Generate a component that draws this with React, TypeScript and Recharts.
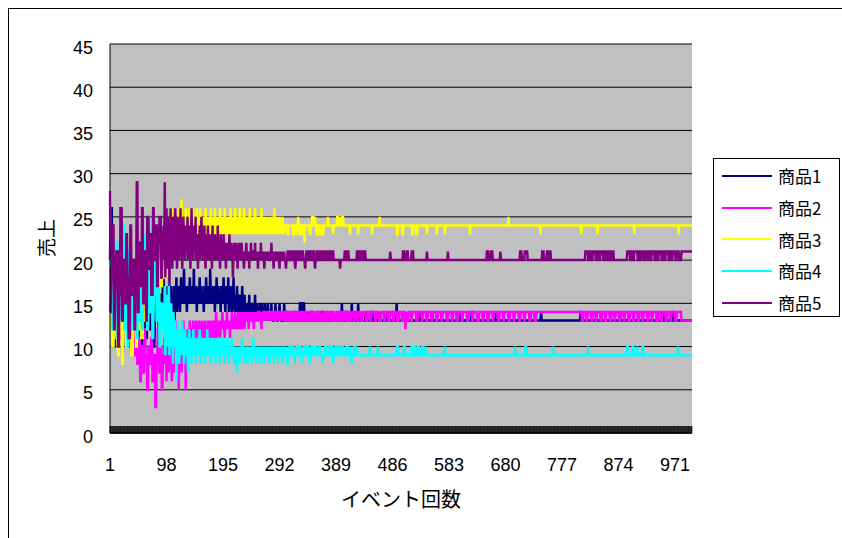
import { LineChart, Line, XAxis, YAxis, CartesianGrid, Legend } from 'recharts'

// event numbers 1..1000
const eventCount = 1000
const events = Array.from({ length: eventCount }, (_, i) => i + 1)

const xTickLabels = [1, 98, 195, 292, 389, 486, 583, 680, 777, 874, 971]
const yTicks = [0, 5, 10, 15, 20, 25, 30, 35, 40, 45]

const seriesNames = ['商品1', '商品2', '商品3', '商品4', '商品5']

// very first events, read as [value, how many events it holds]
type Hold = [number, number]

const s1Start: Hold[] = [
  [20, 1], [26, 3], [14, 2], [10, 3], [17, 2], [12, 3], [21, 2], [11, 3], [15, 2], [9, 2],
  [13, 3], [18, 2], [11, 3], [16, 2], [10, 2], [14, 3], [20, 2], [12, 3], [10, 2], [15, 3],
  [11, 2], [17, 2], [13, 3], [10, 2], [12, 3], [16, 2], [11, 2], [14, 3], [19, 2], [12, 3],
  [15, 2], [10, 3], [13, 2], [17, 3], [14, 2], [11, 2], [16, 3], [13, 2], [18, 2], [15, 3],
]
const s2Start: Hold[] = [
  [28, 1], [20, 2], [14, 3], [17, 2], [12, 3], [19, 2], [15, 2], [11, 3], [16, 2], [13, 3],
  [18, 2], [12, 3], [15, 2], [10, 3], [14, 2], [17, 2], [11, 3], [13, 2], [9, 3], [12, 2],
  [8, 3], [11, 2], [6, 2], [10, 3], [7, 2], [12, 2], [9, 3], [5, 2], [10, 2], [8, 3],
  [11, 2], [6, 3], [9, 2], [3, 2], [8, 2], [12, 3], [7, 2], [10, 2], [5, 2], [9, 3],
]
const s3Start: Hold[] = [
  [12, 2], [16, 2], [10, 3], [14, 2], [19, 2], [11, 3], [9, 2], [15, 2], [13, 3], [8, 2],
  [17, 2], [12, 3], [10, 2], [14, 3], [20, 2], [11, 2], [9, 3], [13, 2], [16, 3], [10, 2],
  [14, 3], [12, 2], [18, 2], [11, 3], [15, 2], [13, 3], [17, 2], [12, 2], [16, 3], [14, 2],
  [19, 2], [15, 3], [21, 2], [16, 2], [18, 3], [14, 2], [20, 2], [17, 3], [22, 2], [18, 2],
]
const s4Start: Hold[] = [
  [20, 2], [16, 2], [12, 3], [18, 2], [14, 2], [22, 2], [11, 3], [15, 2], [19, 2], [13, 3],
  [24, 2], [12, 2], [17, 3], [10, 2], [21, 2], [14, 3], [16, 2], [12, 2], [18, 3], [15, 2],
  [11, 2], [20, 2], [13, 3], [17, 2], [12, 2], [23, 2], [15, 3], [18, 2], [12, 2], [25, 2],
  [14, 3], [19, 2], [11, 2], [16, 3], [22, 2], [13, 2], [17, 3], [10, 2], [15, 2], [12, 3],
]
const s5Start: Hold[] = [
  [14, 2], [19, 2], [24, 3], [12, 2], [17, 2], [21, 3], [10, 2], [16, 2], [26, 3], [13, 2],
  [20, 2], [15, 3], [23, 2], [18, 2], [11, 3], [24, 2], [16, 2], [20, 3], [12, 2], [18, 2],
  [29, 2], [14, 2], [22, 3], [17, 2], [26, 2], [15, 3], [21, 2], [13, 2], [25, 3], [19, 2],
  [23, 2], [16, 3], [26, 2], [20, 2], [24, 3], [17, 2], [22, 2], [25, 3], [18, 2], [21, 2],
]

// the following ~200 events, one value per event
const s1Mid = [
  14, 16, 12, 17, 15, 13, 16, 9, 15, 17, 14, 16, 8, 15, 17, 13, 16, 15, 18, 14,
  16, 15, 17, 16, 14, 16, 18, 15, 17, 16, 15, 19, 16, 15, 17, 16, 14, 16, 17, 15,
  16, 18, 16, 15, 17, 16, 15, 16, 19, 15, 16, 17, 16, 14, 16, 15, 17, 16, 18, 15,
  16, 17, 15, 16, 16, 14, 17, 16, 15, 18, 16, 15, 16, 17, 16, 15, 19, 16, 15, 17,
  16, 15, 16, 17, 14, 16, 15, 18, 16, 15, 17, 16, 15, 16, 14, 17, 16, 15, 16, 18,
  15, 16, 14, 17, 15, 16, 15, 18, 14, 16, 15, 17, 15, 14, 16, 15, 18, 15, 14, 16,
  15, 14, 17, 15, 14, 16, 15, 14, 16, 14, 15, 17, 14, 15, 13, 16, 14, 15, 14, 13,
  15, 14, 13, 16, 14, 13, 15, 14, 13, 14, 15, 13, 14, 16, 13, 14, 15, 13, 14, 13,
  14, 15, 13, 14, 13, 15, 14, 13, 14, 13, 15, 13, 14, 13, 14, 15, 13, 14, 13, 14,
  13, 15, 13, 14, 13, 13, 14, 13, 15, 13, 14, 13, 13, 14, 13, 15, 13, 14, 13, 13,
  14, 13, 13, 15, 13, 14,
]
const s2Mid = [
  12, 8, 10, 6, 11, 9, 13, 7, 10, 12, 8, 11, 6, 9, 12, 10, 7, 11, 13, 9,
  10, 12, 8, 11, 5, 10, 12, 9, 11, 7, 12, 10, 13, 9, 11, 12, 5, 10, 12, 11,
  9, 12, 11, 13, 10, 12, 11, 9, 12, 13, 11, 10, 12, 11, 13, 12, 10, 12, 11, 13,
  12, 10, 11, 12, 13, 11, 12, 10, 12, 13, 11, 12, 12, 11, 13, 12, 10, 12, 13, 11,
  12, 13, 11, 12, 12, 13, 11, 12, 14, 12, 11, 13, 12, 12, 13, 11, 12, 13, 12, 14,
  12, 13, 12, 11, 13, 12, 13, 14, 12, 13, 12, 13, 11, 13, 12, 14, 13, 12, 13, 12,
  13, 14, 12, 13, 13, 12, 14, 13, 12, 13, 14, 13, 12, 13, 14, 13, 13, 12, 14, 13,
  14, 13, 13, 14, 12, 13, 14, 13, 14, 13, 13, 14, 13, 12, 14, 13, 14, 13, 14, 13,
  13, 14, 14, 13, 14, 13, 12, 14, 13, 14, 14, 13, 14, 13, 14, 14, 13, 14, 13, 14,
  14, 13, 14, 14, 13, 14, 13, 14, 14, 13, 14, 13, 14, 14, 13, 14, 14, 13, 14, 13,
  14, 14, 13, 14, 13, 14,
]
const s3Mid = [
  21, 19, 24, 20, 22, 18, 25, 21, 23, 20, 24, 22, 26, 21, 23, 25, 22, 24, 20, 23,
  25, 22, 24, 21, 26, 23, 24, 22, 25, 27, 23, 24, 21, 25, 22, 24, 26, 23, 22, 25,
  24, 23, 26, 22, 24, 25, 23, 21, 24, 26, 23, 25, 22, 24, 23, 26, 24, 22, 25, 23,
  24, 26, 23, 25, 22, 24, 23, 25, 24, 22, 26, 23, 24, 25, 23, 24, 22, 25, 24, 26,
  23, 24, 25, 22, 24, 23, 26, 24, 23, 25, 24, 22, 24, 25, 23, 26, 24, 23, 25, 24,
  23, 25, 24, 26, 23, 24, 25, 23, 24, 22, 25, 24, 23, 26, 24, 25, 23, 24, 25, 23,
  24, 26, 23, 24, 25, 24, 23, 25, 24, 26, 24, 23, 25, 24, 23, 24, 26, 24, 23, 25,
  24, 23, 25, 24, 24, 23, 26, 24, 25, 23, 24, 25, 24, 23, 24, 26, 24, 23, 25, 24,
  23, 24, 25, 24, 23, 24, 26, 24, 24, 23, 25, 24, 23, 24, 25, 24, 23, 24, 24, 25,
  24, 23, 24, 25, 24, 23, 24, 24, 26, 24, 23, 24, 25, 24, 23, 24, 24, 25, 23, 24,
  24, 23, 25, 24, 24, 23,
]
const s4Mid = [
  15, 11, 17, 9, 13, 16, 10, 14, 12, 18, 9, 13, 11, 15, 10, 12, 8, 14, 11, 13,
  10, 12, 6, 11, 9, 13, 10, 8, 12, 9, 11, 10, 13, 9, 10, 8, 11, 12, 9, 10,
  11, 9, 7, 10, 12, 9, 10, 11, 8, 10, 9, 12, 10, 9, 11, 10, 8, 10, 9, 11,
  10, 9, 12, 10, 8, 9, 11, 10, 9, 10, 11, 8, 10, 9, 10, 12, 9, 10, 11, 9,
  10, 8, 9, 11, 10, 9, 10, 9, 11, 8, 10, 9, 10, 11, 9, 10, 9, 8, 10, 11,
  9, 10, 9, 11, 10, 8, 9, 10, 9, 10, 11, 9, 8, 10, 9, 10, 9, 11, 9, 10,
  9, 8, 10, 9, 10, 9, 7, 10, 9, 9, 10, 8, 9, 10, 9, 11, 9, 10, 9, 8,
  10, 9, 9, 10, 8, 9, 10, 9, 9, 10, 9, 8, 10, 9, 11, 9, 9, 10, 9, 8,
  9, 10, 9, 9, 10, 8, 9, 9, 10, 9, 10, 9, 8, 9, 10, 9, 9, 10, 9, 9,
  10, 9, 8, 9, 9, 10, 9, 9, 10, 9, 8, 9, 10, 9, 9, 10, 9, 8, 9, 10,
  9, 9, 10, 9, 8, 9, 10, 9,
]
const s5Mid = [
  24, 20, 29, 18, 23, 26, 19, 25, 21, 24, 17, 22, 26, 20, 23, 19, 25, 22, 24, 20,
  26, 21, 23, 19, 25, 22, 24, 20, 23, 26, 21, 24, 19, 22, 25, 21, 23, 20, 24, 22,
  21, 25, 20, 23, 22, 24, 19, 22, 26, 21, 23, 20, 24, 22, 21, 25, 20, 23, 22, 19,
  23, 21, 24, 20, 22, 25, 21, 23, 20, 22, 24, 21, 19, 23, 22, 20, 24, 21, 22, 20,
  23, 21, 22, 19, 24, 21, 22, 20, 23, 21, 20, 22, 21, 24, 20, 22, 21, 19, 23, 21,
  22, 20, 21, 23, 20, 22, 21, 19, 22, 21, 20, 22, 21, 23, 20, 21, 22, 20, 21, 18,
  21, 22, 20, 21, 20, 22, 21, 19, 21, 20, 22, 21, 20, 21, 22, 20, 21, 20, 19, 21,
  20, 21, 22, 20, 21, 20, 21, 19, 21, 20, 22, 20, 21, 20, 21, 21, 20, 22, 20, 21,
  20, 21, 19, 21, 20, 21, 20, 22, 20, 21, 20, 21, 20, 19, 21, 20, 21, 20, 21, 20,
  21, 20, 20, 21, 20, 22, 20, 21, 20, 19, 21, 20, 21, 20, 20, 21, 20, 21, 20, 19,
  21, 20, 21, 20, 20, 21, 20, 21,
]

// settled part: a steady level, plus the short runs [fromIndex, toIndex, value] that leave it
type Run = [number, number, number]

const s1Level = 13
const s1Runs: Run[] = [
  [302, 303, 14], [309, 309, 14], [317, 318, 14], [326, 327, 15], [331, 333, 15], [340, 340, 14],
  [347, 348, 14], [356, 356, 14], [364, 365, 14], [375, 375, 14], [384, 384, 14], [398, 398, 15],
  [405, 406, 14], [415, 415, 15], [426, 426, 15], [437, 437, 14], [450, 451, 14], [462, 462, 14],
  [475, 475, 14], [492, 492, 15], [510, 510, 14], [531, 531, 14], [553, 553, 14], [600, 600, 14],
  [621, 622, 14], [661, 661, 14], [740, 740, 14], [808, 809, 14], [890, 890, 14], [950, 950, 14],
  [965, 966, 14],
]

const s2Level = 14
const s2Runs: Run[] = [
  [302, 304, 13], [308, 309, 13], [313, 316, 13], [320, 321, 13], [325, 327, 13], [331, 333, 13],
  [337, 340, 13], [344, 345, 13], [349, 352, 13], [356, 357, 13], [361, 364, 13], [368, 369, 13],
  [373, 375, 13], [380, 382, 13], [386, 389, 13], [393, 394, 13], [398, 400, 13], [405, 407, 13],
  [411, 413, 13], [418, 420, 13], [425, 426, 13], [431, 434, 13], [440, 441, 13], [446, 448, 13],
  [455, 456, 13], [462, 465, 13], [471, 472, 13], [478, 480, 13], [486, 487, 13], [493, 495, 13],
  [501, 502, 13], [507, 507, 12], [509, 511, 13], [517, 518, 13], [526, 528, 13], [535, 536, 13],
  [543, 545, 13], [552, 553, 13], [560, 562, 13], [569, 570, 13], [578, 580, 13], [587, 588, 13],
  [595, 597, 13], [604, 605, 13], [613, 615, 13], [622, 623, 13], [630, 633, 13], [640, 641, 13],
  [648, 650, 13], [657, 658, 13], [666, 668, 13], [675, 676, 13], [684, 686, 13], [693, 694, 13],
  [702, 704, 13], [711, 712, 13], [720, 722, 13], [729, 731, 13], [810, 812, 13], [818, 819, 13],
  [826, 828, 13], [834, 835, 13], [842, 844, 13], [850, 851, 13], [858, 860, 13], [866, 867, 13],
  [874, 876, 13], [882, 883, 13], [890, 892, 13], [898, 899, 13], [906, 908, 13], [914, 915, 13],
  [922, 924, 13], [930, 931, 13], [938, 940, 13], [946, 947, 13], [954, 956, 13], [962, 963, 13],
  [970, 972, 13], [981, 999, 13],
]

const s3Level = 24
const s3Runs: Run[] = [
  [305, 306, 23], [314, 316, 23], [320, 321, 23], [323, 323, 25], [326, 328, 23], [332, 332, 23],
  [334, 334, 22], [343, 344, 23], [347, 349, 25], [352, 352, 25], [355, 356, 23], [360, 361, 23],
  [365, 366, 23], [374, 374, 25], [383, 383, 23], [390, 391, 25], [395, 395, 25], [399, 400, 25],
  [412, 412, 23], [426, 426, 23], [450, 450, 23], [463, 463, 25], [493, 494, 23], [502, 503, 23],
  [519, 520, 23], [526, 527, 23], [544, 544, 23], [561, 561, 23], [575, 575, 23], [618, 618, 23],
  [684, 684, 25], [739, 739, 23], [809, 809, 23], [837, 837, 23], [900, 900, 23], [976, 976, 23],
]

const s4Level = 9
const s4Runs: Run[] = [
  [302, 302, 10], [304, 305, 8], [308, 309, 10], [312, 314, 10], [317, 317, 8], [320, 321, 10],
  [325, 327, 10], [330, 330, 8], [333, 334, 10], [338, 340, 10], [343, 343, 8], [346, 347, 10],
  [351, 353, 10], [356, 356, 10], [360, 361, 10], [365, 365, 8], [369, 370, 10], [374, 376, 10],
  [380, 381, 10], [383, 383, 8], [387, 388, 10], [393, 394, 10], [399, 400, 10], [406, 407, 10],
  [412, 412, 10], [415, 415, 8], [419, 420, 10], [424, 424, 10], [446, 446, 10], [460, 460, 10],
  [493, 494, 10], [505, 506, 10], [518, 519, 10], [523, 524, 10], [529, 530, 10], [536, 537, 10],
  [541, 541, 10], [575, 575, 10], [695, 695, 10], [713, 714, 10], [760, 760, 10], [821, 821, 10],
  [888, 889, 10], [897, 898, 10], [905, 905, 10], [914, 915, 10], [975, 975, 10],
]

const s5Level = 20
const s5Runs: Run[] = [
  [302, 302, 19], [305, 307, 21], [311, 312, 21], [315, 316, 21], [318, 318, 19], [320, 322, 21],
  [326, 327, 21], [330, 331, 21], [335, 335, 19], [337, 339, 21], [343, 344, 21], [348, 350, 21],
  [352, 352, 19], [355, 356, 21], [360, 362, 21], [366, 367, 21], [371, 373, 21], [377, 378, 21],
  [382, 383, 21], [395, 395, 19], [403, 405, 21], [408, 409, 21], [424, 426, 21], [430, 432, 21],
  [436, 438, 21], [481, 481, 21], [503, 505, 21], [510, 511, 21], [518, 520, 21], [544, 544, 21],
  [580, 580, 21], [647, 649, 21], [654, 656, 21], [670, 670, 21], [704, 706, 21], [712, 716, 21],
  [742, 744, 21], [750, 751, 21], [755, 756, 21], [816, 820, 21], [824, 826, 21], [829, 833, 21],
  [837, 839, 21], [842, 846, 21], [850, 852, 21], [856, 858, 21], [862, 864, 21], [888, 892, 21],
  [895, 897, 21], [900, 905, 21], [908, 910, 21], [913, 916, 21], [919, 922, 21], [925, 927, 21],
  [930, 934, 21], [937, 939, 21], [942, 946, 21], [949, 951, 21], [954, 958, 21], [961, 963, 21],
  [966, 970, 21], [973, 976, 21], [981, 999, 21],
]

const build = (start: Hold[], mid: number[], level: number, runs: Run[]) => {
  const head: number[] = []
  start.forEach(([v, n]) => {
    for (let k = 0; k < n; k++) head.push(v)
  })
  head.push(...mid)
  const out = events.map((_, i) => (i < head.length ? head[i] : level))
  runs.forEach(([a, b, v]) => {
    for (let i = a; i <= b; i++) out[i] = v
  })
  return out
}

const series = [
  build(s1Start, s1Mid, s1Level, s1Runs),
  build(s2Start, s2Mid, s2Level, s2Runs),
  build(s3Start, s3Mid, s3Level, s3Runs),
  build(s4Start, s4Mid, s4Level, s4Runs),
  build(s5Start, s5Mid, s5Level, s5Runs),
]

const data = events.map((ev, i) => {
  const row: Record<string, number> = { ev }
  seriesNames.forEach((n, k) => (row[n] = series[k][i]))
  return row
})

const colors = ['#000080', '#FF00FF', '#FFFF00', '#00FFFF', '#800080']
const numFont = '"Liberation Sans", Arial, sans-serif'
const jpFont = '"Noto Sans CJK JP", "Liberation Sans", sans-serif'

// every category gets a short inward tick; only some get a label
const XTick = ({ x, y, payload }: any) => (
  <g>
    <line x1={x} x2={x} y1={y} y2={y - 7} stroke="#000" strokeWidth={0.7} />
    {xTickLabels.includes(payload.value) && (
      <text x={x} y={y + 38} textAnchor="middle" fontSize={18} fontFamily={numFont} fill="#000">
        {payload.value}
      </text>
    )}
  </g>
)

const YTick = ({ x, y, payload }: any) => (
  <text x={x} y={y + 9.5} textAnchor="end" fontSize={18} fontFamily={numFont} fill="#000">
    {payload.value}
  </text>
)

const LegendBox = ({ payload }: any) => (
  <div
    style={{
      border: '1px solid #000',
      background: '#fff',
      width: 127,
      height: 159,
      boxSizing: 'border-box',
      paddingTop: 1,
      paddingLeft: 8,
    }}
  >
    {(payload || []).map((p: any) => (
      <div key={p.value} style={{ display: 'flex', alignItems: 'center', height: 31.7 }}>
        <div style={{ width: 50, height: 2, background: p.color }} />
        <span style={{ marginLeft: 6, fontSize: 17, fontFamily: jpFont, color: '#000', lineHeight: 1 }}>
          {p.value}
        </span>
      </div>
    ))}
  </div>
)

export default function App() {
  return (
    <div style={{ position: 'relative', width: 842, height: 538, overflow: 'hidden', background: '#fff' }}>
      <style>{`body{margin:0}`}</style>
      <div
        style={{
          position: 'absolute',
          left: 8,
          top: 8,
          width: 860,
          height: 560,
          borderLeft: '1px solid #000',
          borderTop: '1px solid #000',
        }}
      />
      <LineChart
        width={842}
        height={538}
        data={data}
        margin={{ top: 44, right: 150, bottom: 75, left: 50 }}
        style={{ position: 'absolute', left: 0, top: 0 }}
      >
        <CartesianGrid horizontal vertical={false} stroke="#000" fill="#C0C0C0" strokeOpacity={1} />
        <XAxis
          dataKey="ev"
          interval={0}
          height={30}
          tickSize={0}
          tickMargin={0}
          tickLine={false}
          axisLine={{ stroke: '#000', strokeWidth: 1.5 }}
          tick={<XTick />}
          label={{
            content: () => (
              <text x={401} y={507} textAnchor="middle" fontSize={20} fontFamily={jpFont} fill="#000">
                イベント回数
              </text>
            ),
          }}
        />
        <YAxis
          domain={[0, 45]}
          ticks={yTicks}
          width={60}
          tickSize={0}
          tickMargin={17}
          tickLine={false}
          axisLine={{ stroke: '#000' }}
          tick={<YTick />}
          label={{
            content: () => (
              <text
                x={45}
                y={238}
                transform="rotate(-90 45 238)"
                textAnchor="middle"
                dominantBaseline="central"
                fontSize={19}
                fontFamily={jpFont}
                fill="#000"
              >
                売上
              </text>
            ),
          }}
        />
        <YAxis
          yAxisId="frame"
          orientation="right"
          width={0}
          tick={false}
          tickLine={false}
          axisLine={{ stroke: '#808080', strokeWidth: 2 }}
        />
        <Legend
          layout="vertical"
          align="center"
          verticalAlign="middle"
          content={<LegendBox />}
          wrapperStyle={{ left: 713, top: 158, width: 127, height: 159 }}
        />
        {seriesNames.map((n, k) => (
          <Line
            key={n}
            type="linear"
            dataKey={n}
            name={n}
            stroke={colors[k]}
            strokeWidth={2.5}
            dot={false}
            activeDot={false}
            isAnimationActive={false}
          />
        ))}
      </LineChart>
    </div>
  )
}
